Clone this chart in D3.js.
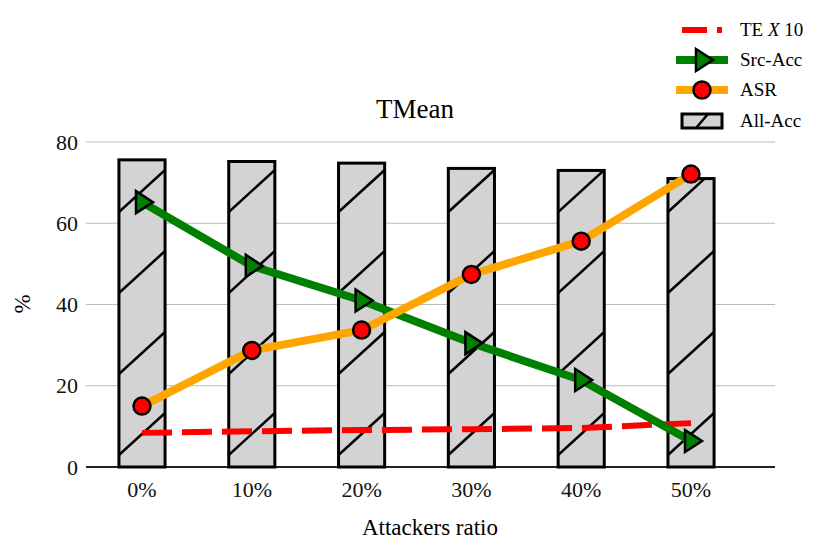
<!DOCTYPE html>
<html><head><meta charset="utf-8">
<script src="https://cdn.jsdelivr.net/npm/d3@7"></script>
<style>body{margin:0;background:#fff}text{font-family:"Liberation Serif","Times New Roman",serif}</style>
</head><body><svg id="c" width="830" height="555"></svg>
<script>
const categories = ["0%", "10%", "20%", "30%", "40%", "50%"];
const allAcc = [75.6, 75.2, 74.8, 73.5, 73.0, 71.0];
const srcAcc = [65.2, 49.5, 41.0, 30.5, 21.4, 6.4];
const asr = [15.0, 28.7, 33.7, 47.4, 55.6, 72.1];
const te10 = [8.4, 8.8, 9.1, 9.3, 9.6, 10.8];
const yTicks = [0, 20, 40, 60, 80];

const svg = d3.select("#c");
const L = 86, R = 747, T = 142, B = 467;
const x = d3.scaleBand().domain(categories).range([L, R]).padding(0.58).paddingOuter(0.3);
const y = d3.scaleLinear().domain([0, 80]).range([B, T]);
const cx = d => x(d) + x.bandwidth() / 2;

svg.append("g").selectAll("line").data(yTicks.slice(1)).join("line")
  .attr("x1", L).attr("x2", 775).attr("y1", y).attr("y2", y)
  .attr("stroke", "#bbb").attr("stroke-width", 1);

svg.append("g").attr("transform", `translate(0,${B})`)
  .call(d3.axisBottom(x).tickSize(0).tickPadding(14))
  .call(g => g.select(".domain").attr("d", `M${L},0H775`).attr("stroke", "#222").attr("stroke-width", 2))
  .call(g => g.selectAll("text").attr("font-size", 22).attr("fill", "#111"));
svg.append("g").attr("transform", `translate(${L},0)`)
  .call(d3.axisLeft(y).tickValues(yTicks).tickSize(0).tickPadding(8))
  .call(g => g.select(".domain").remove())
  .call(g => g.selectAll("text").attr("font-size", 22).attr("fill", "#111"));

// bars with hatch
const defs = svg.append("defs");
const bars = svg.append("g");
categories.forEach((c, i) => {
  const x0 = x(c), w = x.bandwidth(), yt = y(allAcc[i]);
  defs.append("clipPath").attr("id", "cl" + i).append("rect")
    .attr("x", x0).attr("y", yt).attr("width", w).attr("height", B - yt);
  bars.append("rect").attr("x", x0).attr("y", yt).attr("width", w).attr("height", B - yt)
    .attr("fill", "#d3d3d3");
  const hg = bars.append("g").attr("clip-path", `url(#cl${i})`);
  for (let k = 0; k < 5; k++) {
    const b = B - 12 - k * 81;
    hg.append("line").attr("x1", x0).attr("y1", b).attr("x2", x0 + w).attr("y2", b - 42)
      .attr("stroke", "#000").attr("stroke-width", 2.5);
  }
  bars.append("rect").attr("x", x0).attr("y", yt).attr("width", w).attr("height", B - yt)
    .attr("fill", "none").attr("stroke", "#000").attr("stroke-width", 3);
});

const line = d3.line().x((d, i) => cx(categories[i])).y(d => y(d));
svg.append("path").attr("d", line(te10)).attr("fill", "none").attr("stroke", "red")
  .attr("stroke-width", 6).attr("stroke-dasharray", "30,10");
svg.append("path").attr("d", line(srcAcc)).attr("fill", "none").attr("stroke", "green").attr("stroke-width", 8);
svg.append("path").attr("d", line(asr)).attr("fill", "none").attr("stroke", "orange").attr("stroke-width", 8);

const tri = "M-6,-11L11,0L-6,11Z";
svg.append("g").selectAll("path").data(srcAcc).join("path")
  .attr("transform", (d, i) => `translate(${cx(categories[i])},${y(d)})`)
  .attr("d", tri).attr("fill", "green").attr("stroke", "#000").attr("stroke-width", 2.5);
svg.append("g").selectAll("circle").data(asr).join("circle")
  .attr("cx", (d, i) => cx(categories[i])).attr("cy", y).attr("r", 8.5)
  .attr("fill", "red").attr("stroke", "#000").attr("stroke-width", 2.5);

svg.append("text").attr("x", 415).attr("y", 118).attr("text-anchor", "middle").attr("font-size", 27).text("TMean");
svg.append("text").attr("x", 430).attr("y", 535).attr("text-anchor", "middle").attr("font-size", 23).text("Attackers ratio");
svg.append("text").attr("transform", "translate(30,304) rotate(-90)").attr("text-anchor", "middle").attr("font-size", 23).text("%");

// legend
const lg = svg.append("g");
const ly = [30, 60, 90, 121];
lg.append("line").attr("x1", 682).attr("x2", 707).attr("y1", ly[0]).attr("y2", ly[0]).attr("stroke", "red").attr("stroke-width", 6);
lg.append("line").attr("x1", 717).attr("x2", 722).attr("y1", ly[0]).attr("y2", ly[0]).attr("stroke", "red").attr("stroke-width", 6);
lg.append("line").attr("x1", 676).attr("x2", 728).attr("y1", ly[1]).attr("y2", ly[1]).attr("stroke", "green").attr("stroke-width", 8);
lg.append("path").attr("transform", `translate(702,${ly[1]})`).attr("d", tri).attr("fill", "green").attr("stroke", "#000").attr("stroke-width", 2.5);
lg.append("line").attr("x1", 676).attr("x2", 728).attr("y1", ly[2]).attr("y2", ly[2]).attr("stroke", "orange").attr("stroke-width", 8);
lg.append("circle").attr("cx", 702).attr("cy", ly[2]).attr("r", 8.5).attr("fill", "red").attr("stroke", "#000").attr("stroke-width", 2.5);
lg.append("rect").attr("x", 682).attr("y", ly[3] - 7).attr("width", 40).attr("height", 14).attr("fill", "#d3d3d3").attr("stroke", "#000").attr("stroke-width", 3);
lg.append("line").attr("x1", 696).attr("x2", 708).attr("y1", ly[3] + 7).attr("y2", ly[3] - 7).attr("stroke", "#000").attr("stroke-width", 2.5);
const lt = lg.append("g").attr("font-size", 19);
lt.append("text").attr("x", 740).attr("y", ly[0] + 6).html('TE <tspan font-style="italic">X</tspan> 10');
lt.append("text").attr("x", 740).attr("y", ly[1] + 6).text("Src-Acc");
lt.append("text").attr("x", 740).attr("y", ly[2] + 6).text("ASR");
lt.append("text").attr("x", 740).attr("y", ly[3] + 6).text("All-Acc");
</script></body></html>
